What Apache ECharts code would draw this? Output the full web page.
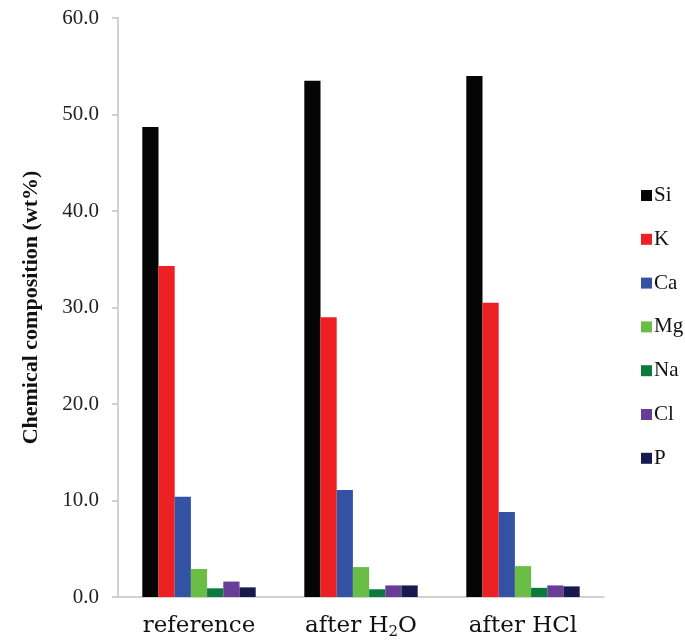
<!DOCTYPE html>
<html>
<head>
<meta charset="utf-8">
<script src="https://cdn.jsdelivr.net/npm/echarts@6/dist/echarts.min.js"></script>
<style>html,body{margin:0;padding:0;background:#fff}#c{width:685px;height:640px}</style>
</head>
<body>
<div id="c"></div>
<script>
const categories = ['reference', 'after H\u2082O', 'after HCl'];
const elements = ['Si', 'K', 'Ca', 'Mg', 'Na', 'Cl', 'P'];
const Si = [48.7, 53.5, 54.0];
const K  = [34.3, 29.0, 30.5];
const Ca = [10.4, 11.1, 8.8];
const Mg = [2.9, 3.1, 3.2];
const Na = [0.9, 0.8, 0.95];
const Cl = [1.6, 1.2, 1.2];
const P  = [1.0, 1.2, 1.1];
const yTicks = { min: 0, max: 60, interval: 10 };
const colors = ['#050505', '#ed2024', '#3352a4', '#6abd45', '#0b7a3e', '#673d98', '#161a4f'];
const values = [Si, K, Ca, Mg, Na, Cl, P];

const serif = '"Liberation Serif", "DejaVu Serif", serif';
const wideSerif = '"DejaVu Serif", "Liberation Serif", serif';
const chart = echarts.init(document.getElementById('c'), null, {renderer: 'canvas'});
chart.setOption({
  animation: false,
  backgroundColor: '#ffffff',
  grid: { left: 118, top: 18, right: 81, bottom: 43, containLabel: false },
  legend: {
    orient: 'vertical',
    left: 636,
    top: 180,
    itemWidth: 11,
    itemHeight: 11,
    itemGap: 22.8,
    icon: 'rect',
    textStyle: { fontFamily: serif, fontSize: 21, color: '#111', lineHeight: 21, padding: [0,0,0,-3] },
    data: elements
  },
  xAxis: {
    type: 'category',
    data: categories,
    axisLine: { lineStyle: { color: '#c4c4c4', width: 1.5 } },
    axisTick: { show: false },
    axisLabel: {
      interval: 0,
      hideOverlap: false,
      fontFamily: wideSerif, fontSize: 23, color: '#111', margin: 15, lineHeight: 28,
      formatter: v => v.replace('\u2082', '{sub|2}'),
      rich: {
        sub: { fontFamily: wideSerif, fontSize: 15, color: '#111', lineHeight: 28, verticalAlign: 'bottom' }
      }
    }
  },
  yAxis: {
    type: 'value',
    min: yTicks.min, max: yTicks.max, interval: yTicks.interval,
    name: 'Chemical composition (wt%)',
    nameLocation: 'middle',
    nameGap: 76,
    nameRotate: 90,
    nameTextStyle: { fontFamily: serif, fontSize: 22, fontWeight: 'bold', color: '#111' },
    axisLine: { show: true, lineStyle: { color: '#c4c4c4', width: 1.5 } },
    axisTick: { show: true, length: 6, lineStyle: { color: '#c4c4c4', width: 1.5 } },
    splitLine: { show: false },
    axisLabel: { fontFamily: serif, fontSize: 21, color: '#222', margin: 19,
      formatter: v => v.toFixed(1) }
  },
  series: elements.map((name, i) => ({
    name: name,
    type: 'bar',
    data: values[i],
    barGap: '0%',
    barCategoryGap: '30%',
    itemStyle: { color: colors[i] }
  }))
});
</script>
</body>
</html>
